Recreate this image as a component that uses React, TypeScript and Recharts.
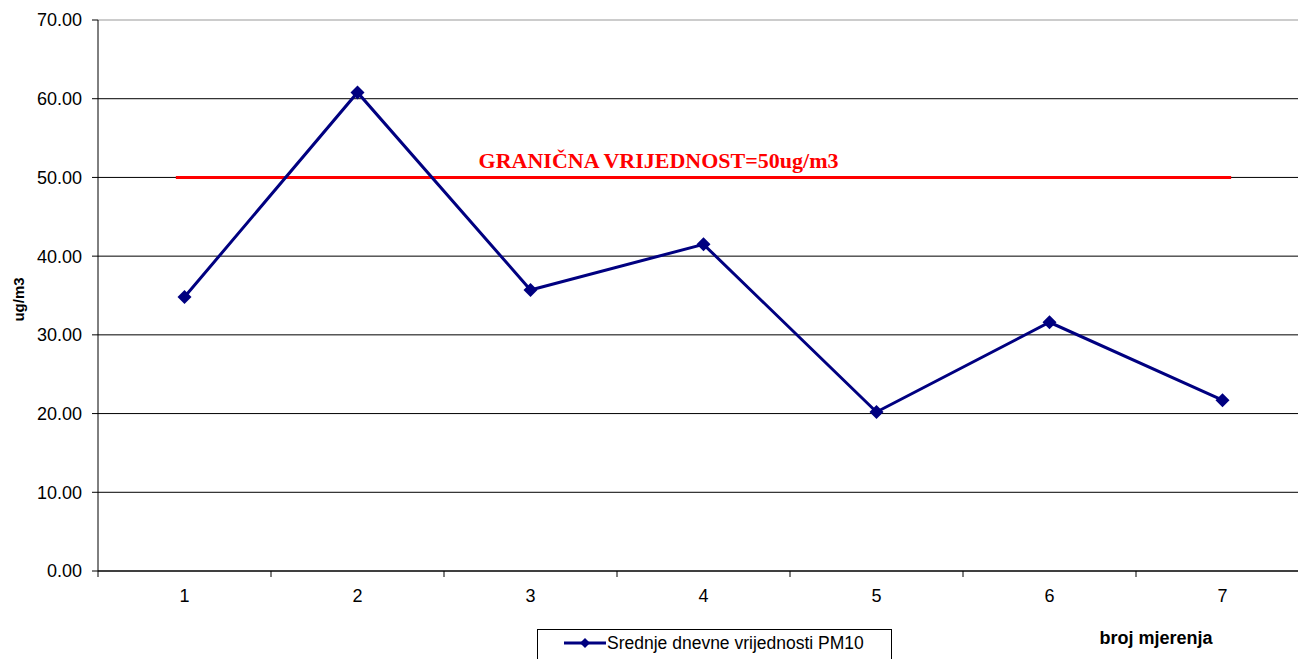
import React from 'react'
import {
  LineChart,
  Line,
  XAxis,
  YAxis,
  CartesianGrid,
  ReferenceLine,
  Legend,
  Label,
} from 'recharts'

const measurements = [1, 2, 3, 4, 5, 6, 7]
const pm10Values = [34.8, 60.8, 35.7, 41.5, 20.2, 31.6, 21.7]
const yTicks = [0, 10, 20, 30, 40, 50, 60, 70]
const limitValue = 50
const limitLabel = 'GRANIČNA VRIJEDNOST=50ug/m3'
const seriesName = 'Srednje dnevne vrijednosti PM10'
const yTitle = 'ug/m3'
const xTitle = 'broj mjerenja'

const data = measurements.map((m, i) => ({ mjerenje: m, pm10: pm10Values[i] }))
// Excel style: labels at category centres, tick marks on the boundaries between them
const xTicks = [measurements[0] - 0.5, ...measurements.flatMap((m) => [m, m + 0.5])]
const xDomain = [measurements[0] - 0.5, measurements[measurements.length - 1] + 0.5]
// the limit line sticks out a little past the first and last point
const LIMIT_OVERHANG = 0.05

const NAVY = '#000080'
const RED = '#FF0000'
const FONT = 'Arial, "Liberation Sans", sans-serif'
const TICK_SIZE = 6
const TICK_MARGIN = 12

function XTick(props: any) {
  const { x, y, payload } = props
  if (Number.isInteger(payload.value)) {
    return (
      <text
        x={x}
        y={y}
        dy="0.71em"
        textAnchor="middle"
        fill="#000"
        style={{ fontSize: 18, fontFamily: FONT }}
      >
        {payload.value}
      </text>
    )
  }
  const axisY = y - TICK_SIZE - TICK_MARGIN
  return <line x1={x} x2={x} y1={axisY} y2={axisY + TICK_SIZE} stroke="#000" />
}

function YTick(props: any) {
  const { x, y, payload } = props
  return (
    <text
      x={x}
      y={y}
      dy="0.355em"
      textAnchor="end"
      fill="#000"
      style={{ fontSize: 18, fontFamily: FONT }}
    >
      {Number(payload.value).toFixed(2)}
    </text>
  )
}

const renderDiamond = (props: any) => {
  const { cx, cy, index } = props
  if (cx == null || cy == null) return <g key={index} />
  const r = 7
  return (
    <path
      key={index}
      d={`M${cx},${cy - r}L${cx + r},${cy}L${cx},${cy + r}L${cx - r},${cy}Z`}
      fill={NAVY}
    />
  )
}

const renderGridLine = (props: any) => {
  const { x1, x2, y1, y2, y, index } = props
  return (
    <line
      key={`h-${index}`}
      x1={x1}
      x2={x2}
      y1={y1}
      y2={y2}
      stroke={Math.abs(y1 - y) < 0.5 ? '#999' : '#000'}
      strokeWidth={1}
    />
  )
}

function LegendBox({ payload }: any) {
  const item = payload && payload[0]
  return (
    <div
      style={{
        border: '1px solid #000',
        background: '#fff',
        height: 40,
        boxSizing: 'border-box',
        display: 'flex',
        alignItems: 'flex-start',
        paddingLeft: 25,
        paddingTop: 3,
        fontFamily: FONT,
      }}
    >
      <svg width={44} height={20}>
        <line x1={1} x2={43} y1={10} y2={10} stroke={NAVY} strokeWidth={3} />
        <path d="M22,5L27,10L22,15L17,10Z" fill={NAVY} />
      </svg>
      <span style={{ fontSize: 17.5, lineHeight: '20px', color: '#000' }}>
        {item ? item.value : seriesName}
      </span>
    </div>
  )
}

export default function App() {
  return (
    <div
      style={{
        position: 'absolute',
        left: 0,
        top: 0,
        width: 1298,
        height: 659,
        overflow: 'hidden',
        background: '#fff',
        fontFamily: FONT,
      }}
    >
      <LineChart
        width={1320}
        height={659}
        data={data}
        margin={{ top: 20, right: 11, bottom: 0, left: 0 }}
      >
        <CartesianGrid vertical={false} horizontal={renderGridLine} />
        <XAxis
          dataKey="mjerenje"
          type="number"
          domain={xDomain}
          ticks={xTicks}
          interval={0}
          height={88}
          tickLine={false}
          tickSize={TICK_SIZE}
          tickMargin={TICK_MARGIN}
          axisLine={{ stroke: '#000' }}
          tick={<XTick />}
        >
          <Label
            content={({ viewBox }: any) => (
              <text
                x={viewBox.x + viewBox.width - 153}
                y={viewBox.y + 67}
                textAnchor="middle"
                dominantBaseline="central"
                fontSize={18}
                fontWeight="bold"
                fontFamily={FONT}
                fill="#000"
              >
                {xTitle}
              </text>
            )}
          />
        </XAxis>
        <YAxis
          domain={[0, 70]}
          ticks={yTicks}
          interval={0}
          width={98}
          tickSize={6}
          tickMargin={10}
          tick={<YTick />}
          tickLine={{ stroke: '#000' }}
          axisLine={{ stroke: '#000' }}
        >
          <Label
            content={({ viewBox }: any) => {
              const cx = 18
              const cy = viewBox.y + viewBox.height / 2 + 4
              return (
                <text
                  x={cx}
                  y={cy}
                  transform={`rotate(-90, ${cx}, ${cy})`}
                  textAnchor="middle"
                  dominantBaseline="central"
                  fontSize={15}
                  fontWeight="bold"
                  fontFamily={FONT}
                  fill="#000"
                >
                  {yTitle}
                </text>
              )
            }}
          />
        </YAxis>
        <ReferenceLine
          segment={[
            { x: measurements[0] - LIMIT_OVERHANG, y: limitValue },
            { x: measurements[measurements.length - 1] + LIMIT_OVERHANG, y: limitValue },
          ]}
          stroke={RED}
          strokeWidth={3}
          label={{
            content: ({ viewBox }: any) => (
              <text
                x={viewBox.x + viewBox.width / 2 - 45}
                y={viewBox.y - 9}
                textAnchor="middle"
                fontSize={22}
                fontWeight="bold"
                fontFamily='"Liberation Serif", "Times New Roman", serif'
                fill={RED}
              >
                {limitLabel}
              </text>
            ),
          }}
        />
        <Line
          type="linear"
          dataKey="pm10"
          name={seriesName}
          stroke={NAVY}
          strokeWidth={3}
          dot={renderDiamond}
          activeDot={false}
          isAnimationActive={false}
        />
        <Legend
          layout="horizontal"
          verticalAlign="middle"
          content={<LegendBox />}
          wrapperStyle={{ left: 537, top: 629, width: 355, height: 40, bottom: 'auto', right: 'auto' }}
        />
      </LineChart>
    </div>
  )
}
